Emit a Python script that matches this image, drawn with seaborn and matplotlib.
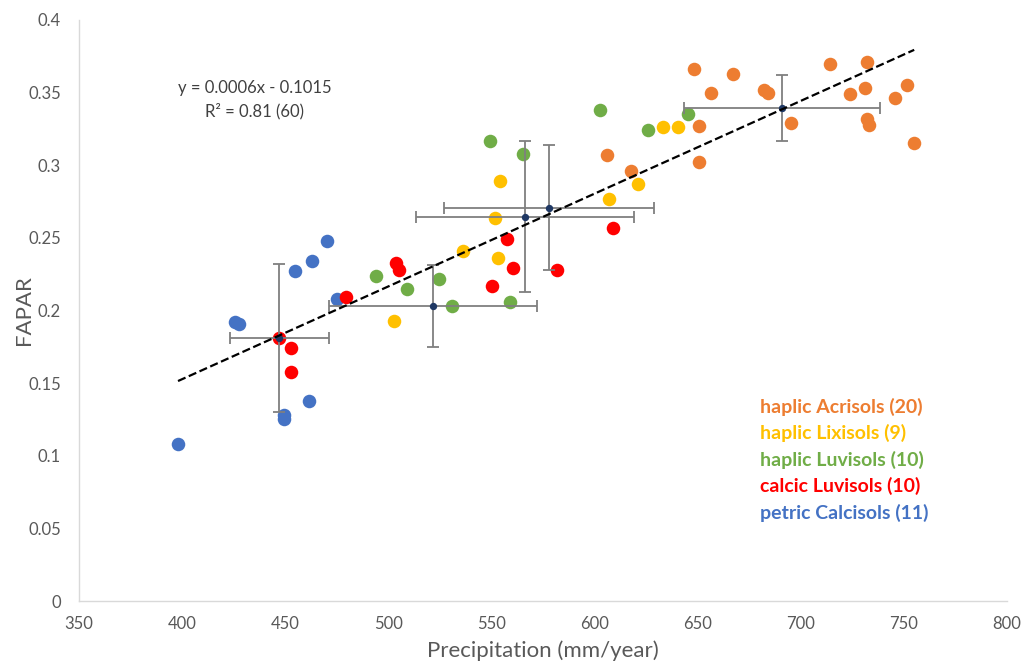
import pandas as pd
import numpy as np
import matplotlib
matplotlib.use('Agg')
import matplotlib.pyplot as plt
import seaborn as sns

# soil groups (legend order) and their colours
groups = ['haplic Acrisols', 'haplic Lixisols', 'haplic Luvisols', 'calcic Luvisols', 'petric Calcisols']
counts = [20, 9, 10, 10, 11]
colors = ['#ED7D31', '#FFC000', '#70AD47', '#FF0000', '#4472C4']

# points: precipitation (mm/year), FAPAR
acrisols_x = [648.2, 667.2, 656.5, 682.2, 684.1, 714.2, 732.2, 731.2, 723.9, 745.7,
              751.6, 732.2, 733.1, 755.0, 695.3, 650.7, 650.7, 617.7, 606.0]
acrisols_y = [0.366, 0.363, 0.350, 0.352, 0.350, 0.370, 0.371, 0.353, 0.349, 0.346,
              0.355, 0.332, 0.328, 0.315, 0.329, 0.327, 0.302, 0.296, 0.307]
lixisols_x = [554.2, 551.8, 536.2, 553.2, 502.8, 607.0, 621.0, 633.2, 640.5]
lixisols_y = [0.289, 0.264, 0.241, 0.236, 0.193, 0.277, 0.287, 0.326, 0.326]
h_luvisols_x = [549.3, 565.3, 602.7, 524.6, 509.0, 494.0, 530.9, 559.0, 645.3, 626.0]
h_luvisols_y = [0.317, 0.308, 0.338, 0.222, 0.215, 0.224, 0.203, 0.206, 0.335, 0.324]
c_luvisols_x = [503.7, 505.2, 557.6, 560.5, 550.3, 581.8, 609.0, 479.5, 447.0, 452.8, 452.8]
c_luvisols_y = [0.233, 0.228, 0.249, 0.229, 0.217, 0.228, 0.257, 0.209, 0.181, 0.174, 0.158]
calcisols_x = [470.3, 463.0, 454.8, 475.0, 425.6, 427.6, 461.5, 449.4, 449.4, 398.0]
calcisols_y = [0.248, 0.234, 0.227, 0.208, 0.192, 0.191, 0.138, 0.128, 0.125, 0.108]

# group means with error bars (order: Calcisols, calcic Luvisols, haplic Luvisols, Lixisols, Acrisols)
mean_x = [447.0, 521.7, 566.3, 577.9, 690.9]
mean_y = [0.181, 0.203, 0.2645, 0.2707, 0.3395]
err_x = [24.0, 50.4, 53.0, 51.0, 47.3]
err_y = [0.051, 0.028, 0.052, 0.043, 0.0227]

equation = 'y = 0.0006x - 0.1015'
r2_text = 'R² = 0.81 (60)'

xs = [acrisols_x, lixisols_x, h_luvisols_x, c_luvisols_x, calcisols_x]
ys = [acrisols_y, lixisols_y, h_luvisols_y, c_luvisols_y, calcisols_y]
df = pd.concat([pd.DataFrame({'precip': x, 'fapar': y, 'soil': g})
                for g, x, y in zip(groups, xs, ys)], ignore_index=True)

sns.set_style('white')
plt.rcParams['font.family'] = ['Lato', 'DejaVu Sans']

fig = plt.figure(figsize=(10.21, 6.62), dpi=100)
ax = fig.add_axes([0.0774, 0.0921, 0.9089, 0.8777])

# draw in reverse legend order so Acrisols end up on top
for g, c in list(zip(groups, colors))[::-1]:
    sns.scatterplot(data=df[df['soil'] == g], x='precip', y='fapar', color=c,
                    s=95, linewidth=0, ax=ax, zorder=3, legend=False)

ax.errorbar(mean_x, mean_y, xerr=err_x, yerr=err_y, fmt='none', ecolor='#7F7F7F',
            elinewidth=1.3, capsize=4, capthick=1.3, zorder=4)
ax.scatter(mean_x, mean_y, s=28, color='#1F3864', zorder=5, linewidth=0)

sns.regplot(data=df, x='precip', y='fapar', scatter=False, ci=None, truncate=True, ax=ax,
            line_kws={'color': 'black', 'linestyle': '--', 'linewidth': 1.6, 'zorder': 6})

ax.set_xlim(350, 800)
ax.set_ylim(0, 0.4)
ax.set_xticks(np.arange(350, 801, 50))
ax.set_yticks(np.arange(0, 0.401, 0.05))
ax.set_yticklabels(['0', '0.05', '0.1', '0.15', '0.2', '0.25', '0.3', '0.35', '0.4'])
ax.tick_params(axis='both', length=0, labelsize=12, labelcolor='#595959')
ax.tick_params(axis='x', pad=11)
ax.tick_params(axis='y', pad=13)
ax.set_xlabel('Precipitation (mm/year)', fontsize=16, color='#595959', labelpad=6)
ax.set_ylabel('FAPAR', fontsize=16, color='#595959', labelpad=-4)

for side in ['top', 'right']:
    ax.spines[side].set_visible(False)
for side in ['left', 'bottom']:
    ax.spines[side].set_color('#D9D9D9')
    ax.spines[side].set_linewidth(1)

ax.text(0.189, 0.883, equation, transform=ax.transAxes, ha='center', va='center',
        fontsize=12, color='#404040')
ax.text(0.189, 0.843, r2_text, transform=ax.transAxes, ha='center', va='center',
        fontsize=12, color='#404040')

for i, (g, n, c) in enumerate(zip(groups, counts, colors)):
    ax.text(0.734, 0.334 - i * 0.0455, f'{g} ({n})', transform=ax.transAxes,
            ha='left', va='center', fontsize=14, fontweight='bold', color=c)

fig.savefig('out.png', dpi=100)
